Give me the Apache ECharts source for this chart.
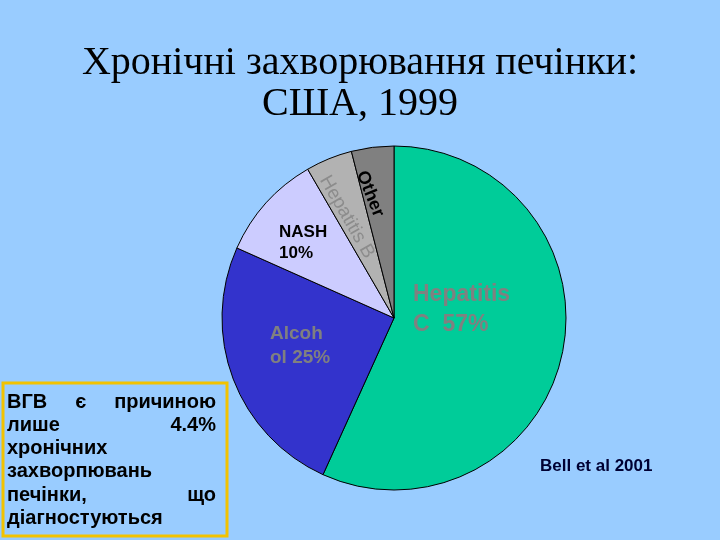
<!DOCTYPE html>
<html><head><meta charset="utf-8">
<script src="https://cdn.jsdelivr.net/npm/echarts@6/dist/echarts.min.js"></script>
<style>html,body{margin:0;padding:0;background:#99CCFF;}#c{width:720px;height:540px;}</style>
</head><body><div id="c"></div>
<script>
const titleText = 'Хронічні захворювання печінки:\nСША, 1999';
const categories = ['Hepatitis C', 'Alcohol', 'NASH', 'Hepatitis B', 'Other'];
const values = [57, 25, 10, 4.4, 4.0];
const labelTexts = ['Hepatitis\nC  57%', 'Alcoh\nol 25%', 'NASH\n10%', 'Hepatitis B', 'Other'];
const sourceText = 'Bell et al 2001';
const noteLines = [
  ['ВГВ', 'є', 'причиною'],
  ['лише', '4.4%'],
  ['хронічних'],
  ['захворпювань'],
  ['печінки,', 'що'],
  ['діагностуються']
];

const colors = ['#00CC99', '#3333CC', '#CCCCFF', '#B2B2B2', '#808080'];
const labelStyles = [
  {color: '#808080', fontSize: 23, fontWeight: 'bold', lineHeight: 30},
  {color: '#808080', fontSize: 19, fontWeight: 'bold', lineHeight: 24},
  {color: '#000000', fontSize: 17, fontWeight: 'bold', lineHeight: 21},
  {color: '#8C8C8C', fontSize: 19, fontWeight: 'normal', lineHeight: 20},
  {color: '#000000', fontSize: 18, fontWeight: 'bold', lineHeight: 20}
];
const labelPlace = [
  {x: 413, y: 310, align: 'left', rotate: 0},
  {x: 270, y: 346, align: 'left', rotate: 0},
  {x: 279, y: 243, align: 'left', rotate: 0},
  {x: 347, y: 217, align: 'center', rotate: -60},
  {x: 370, y: 194, align: 'center', rotate: -68}
];

const FONT = '"Liberation Sans", Arial, sans-serif';
const noteFont = 'bold 20px ' + FONT;
const ctx = document.createElement('canvas').getContext('2d');
ctx.font = 'bold 20px "Liberation Sans"';
const boxL = 7, boxR = 216, line0 = 402, lineStep = 23.3;
const noteEls = [];
noteLines.forEach((words, i) => {
  const y = line0 + i * lineStep;
  if (words.length === 1) {
    noteEls.push({type: 'text', x: boxL, y: y, style: {text: words[0], font: noteFont, fill: '#000', align: 'left', verticalAlign: 'middle'}});
  } else {
    const widths = words.map(w => ctx.measureText(w).width);
    const total = widths.reduce((a, b) => a + b, 0);
    const gap = (boxR - boxL - total) / (words.length - 1);
    let x = boxL;
    words.forEach((w, j) => {
      noteEls.push({type: 'text', x: x, y: y, style: {text: w, font: noteFont, fill: '#000', align: 'left', verticalAlign: 'middle'}});
      x += widths[j] + gap;
    });
  }
});

const chart = echarts.init(document.getElementById('c'));
chart.setOption({
  backgroundColor: '#99CCFF',
  animation: false,
  title: {
    text: titleText,
    left: 'center',
    top: 38,
    textStyle: {fontFamily: '"Liberation Serif", "Times New Roman", serif', fontSize: 40, fontWeight: 'normal', color: '#000', lineHeight: 41}
  },
  graphic: [
    {type: 'rect', shape: {x: 3, y: 383, width: 224, height: 153}, style: {fill: 'none', stroke: '#F2C200', lineWidth: 3}},
    {type: 'group', children: noteEls},
    {type: 'text', x: 540, y: 466, style: {text: sourceText, font: 'bold 17px ' + FONT, fill: '#000033', align: 'left', verticalAlign: 'middle'}}
  ],
  series: [{
    type: 'pie',
    center: [394, 318],
    radius: 172,
    startAngle: 90,
    clockwise: true,
    silent: true,
    itemStyle: {borderColor: '#000', borderWidth: 1},
    label: {show: true, position: 'inside', fontFamily: FONT},
    labelLine: {show: false},
    labelLayout: function (p) {
      const pl = labelPlace[p.dataIndex];
      return {x: pl.x, y: pl.y, align: pl.align, verticalAlign: 'middle', rotate: pl.rotate};
    },
    data: categories.map((c, i) => ({
      name: c,
      value: values[i],
      itemStyle: {color: colors[i]},
      label: Object.assign({formatter: labelTexts[i], fontFamily: FONT}, labelStyles[i])
    }))
  }]
});
</script></body></html>
